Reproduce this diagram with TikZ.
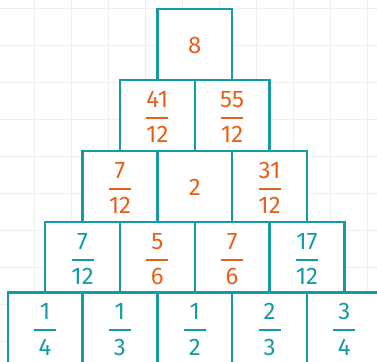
\documentclass[tikz,border=0pt]{standalone}
\usepackage{fontspec}
\setmainfont{Fira Sans}
\usetikzlibrary{calc}
\definecolor{myteal}{HTML}{149BA5}
\definecolor{myorange}{HTML}{E8611A}
\definecolor{gridgray}{HTML}{EEEEEE}
\begin{document}
\begin{tikzpicture}[x=1pt,y=-1pt,
  box/.style={draw=myteal, line width=2.4pt, fill=white, minimum width=74.8pt, minimum height=70.8pt, inner sep=0pt, outer sep=0pt, anchor=north west},
  num/.style={font=\fontsize{24}{28}\selectfont, anchor=base, inner sep=0pt},
  gridline/.style={draw=gridgray, line width=1pt},
  barline/.style={line width=2pt}]
\useasboundingbox (0,0) rectangle (377,361);
\clip (0,0) rectangle (377,361);
\fill[white] (0,0) rectangle (377,361);
\foreach \i in {0,...,9} {
  \draw[gridline] ({34.3+37*\i},0) -- ({34.3+37*\i},361);
  \draw[gridline] (0,{8.3+37*\i}) -- (377,{8.3+37*\i});
}
\foreach \r/\c in {0/0,1/0,1/1,2/0,2/1,2/2,3/0,3/1,3/2,3/3,4/0,4/1,4/2,4/3,4/4}
  \node[box] (b\r\c) at ({157.3-37.4*\r+74.8*\c},{9.3+70.8*\r}) {};
\node[num, text=myorange] (t00) at ($(b00.north)+(0,44.5)$) {8};
\node[num, text=myorange] (t21) at ($(b21.north)+(0,44.5)$) {2};
\foreach \r/\c/\n/\d/\col in {1/0/41/12/myorange, 1/1/55/12/myorange, 2/0/7/12/myorange, 2/2/31/12/myorange,
  3/0/7/12/myteal, 3/1/5/6/myorange, 3/2/7/6/myorange, 3/3/17/12/myteal,
  4/0/1/4/myteal, 4/1/1/3/myteal, 4/2/1/2/myteal, 4/3/2/3/myteal, 4/4/3/4/myteal} {
  \node[num, text=\col] (n\r\c) at ($(b\r\c.north)+(0,27.3)$) {\n};
  \node[num, text=\col] (d\r\c) at ($(b\r\c.north)+(0,62.8)$) {\d};
  \draw[barline, draw=\col] ($(b\r\c.north)+(-11,37.8)$) -- ($(b\r\c.north)+(11,37.8)$);
}
\end{tikzpicture}
\end{document}
